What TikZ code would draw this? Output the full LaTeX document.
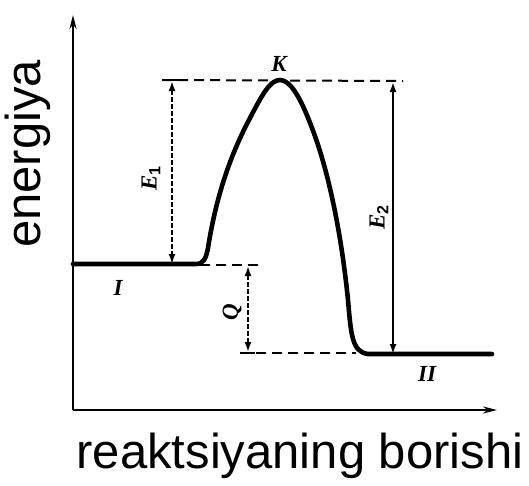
\documentclass[tikz,border=0pt]{standalone}
\usepackage{fontspec}
\setmainfont{Liberation Sans}
\newfontfamily\labfont{Liberation Serif}
\usetikzlibrary{arrows.meta}
\begin{document}
\begin{tikzpicture}[x=1pt,y=-1pt,
  axis/.style={line width=2pt,-{Stealth[length=14pt,width=7pt]}},
  curve/.style={line width=4.6pt,line cap=round,line join=round},
  guide/.style={line width=2pt,dash pattern=on 10pt off 6pt},
  dim/.style={line width=1.8pt,{Latex[length=10pt,width=7pt]}-{Latex[length=10pt,width=7pt]}},
  dimdash/.style={dim,dash pattern=on 5pt off 2pt},
  lab/.style={font=\labfont\fontsize{23}{23}\selectfont\bfseries\itshape},
  big/.style={font=\fontsize{49}{49}\selectfont}]
\useasboundingbox (0,0) rectangle (529,485);
% named points
\coordinate (O) at (73,410);
\coordinate (Ytop) at (73,15);
\coordinate (Xend) at (497,410);
\coordinate (I0) at (73,264);
\coordinate (Iend) at (196,264);
\coordinate (IIstart) at (368,354);
\coordinate (IIend) at (492,354);
\coordinate (Ktop) at (280,80);
\coordinate (Tl) at (162,80);
\coordinate (Tr) at (403,81);
\coordinate (Dl) at (200,265);
\coordinate (Dr) at (258,265);
\coordinate (Bl) at (240,353);
\coordinate (Br) at (356,353);
\coordinate (E1a) at (172,81);
\coordinate (E1b) at (172,264);
\coordinate (E2a) at (393,82);
\coordinate (E2b) at (393,354);
\coordinate (Qa) at (248,266);
\coordinate (Qb) at (248,352);
% axes
\draw[axis] (O) -- (Ytop);
\draw[axis] (O) -- (Xend);
% guides
\draw[guide] (Tl) -- (Tr);
\draw[guide] (Dl) -- (Dr);
\draw[guide] (Bl) -- (Br);
% energy curve
\draw[curve] (I0) -- (Iend) .. controls (204,264) and (206,258) .. (208,248)
  .. controls (214,210) and (225,165) .. (250,118)
  .. controls (262,95) and (270,80) .. (Ktop)
  .. controls (290,80) and (300,96) .. (312,128)
  .. controls (330,175) and (342,240) .. (348,300)
  .. controls (351,335) and (352,352) .. (IIstart) -- (IIend);
% dimension arrows
\draw[dimdash] (E1a) -- (E1b);
\draw[dim] (E2a) -- (E2b);
\draw[dimdash] (Qa) -- (Qb);
\draw[line width=1.8pt] (165,80) -- (179,80);
\draw[line width=1.8pt] (241,353) -- (255,353);
% labels
\node[lab] (K) at (279,64) {K};
\node[lab,rotate=90] (E1) at (151,178) {E$_{\mathbf 1}$};
\node[lab,rotate=90] (E2) at (379,217) {E$_{\mathbf 2}$};
\node[lab,rotate=90] (Q) at (232,312) {Q};
\node[lab] (Il) at (118,288) {I};
\node[lab] (IIl) at (427,374) {II};
\node[big,rotate=90] (ylab) at (28,154) {energiya};
\node[big] (xlab) at (300,456) {reaktsiyaning borishi};
\end{tikzpicture}
\end{document}
